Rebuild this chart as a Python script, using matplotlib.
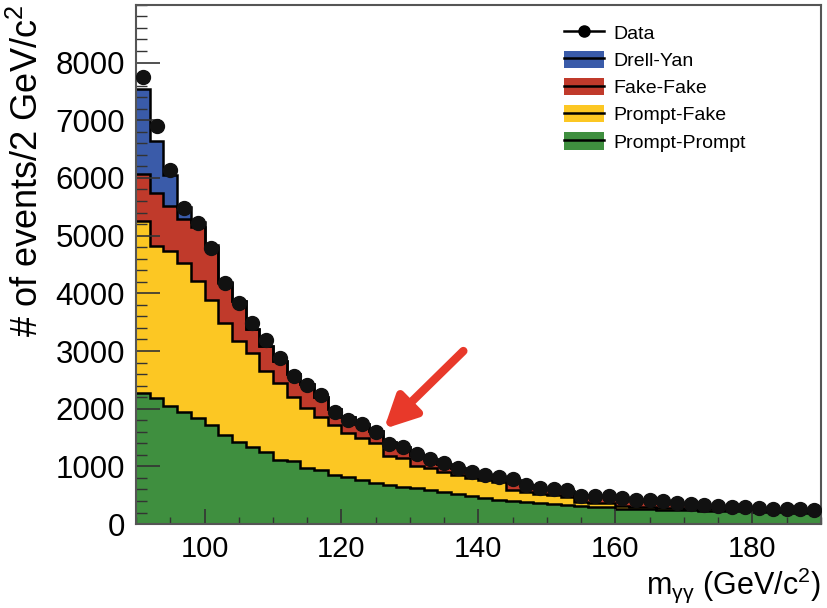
import matplotlib
matplotlib.use("Agg")
import matplotlib.pyplot as plt
from matplotlib.patches import Patch
from matplotlib.lines import Line2D
from matplotlib.ticker import MultipleLocator
import numpy as np

plt.rcParams['font.family'] = ['Liberation Sans', 'DejaVu Sans']
plt.rcParams['mathtext.default'] = 'regular'

# 2 GeV bins from 90 to 190
bin_edges = np.arange(90, 191, 2)
bin_centers = np.arange(91, 190, 2)

data = [7750, 6900, 6130, 5480, 5220, 4780, 4180, 3840, 3480, 3190,
        2880, 2570, 2410, 2240, 1950, 1810, 1730, 1600, 1390, 1340,
        1220, 1120, 1060, 970, 910, 850, 820, 790, 680, 620,
        610, 590, 490, 490, 490, 450, 420, 410, 405, 370,
        350, 335, 315, 300, 290, 275, 270, 258, 255, 240]

prompt_prompt = [2280, 2180, 2040, 1950, 1840, 1720, 1550, 1430, 1340, 1255,
                 1110, 1100, 970, 940, 850, 820, 765, 710, 680, 650,
                 620, 590, 560, 530, 490, 450, 420, 405, 390, 360,
                 345, 330, 310, 300, 290, 270, 260, 255, 250, 245,
                 240, 235, 230, 225, 220, 215, 210, 205, 200, 195]

prompt_fake = [2970, 2640, 2690, 2580, 2370, 2170, 1930, 1735, 1620, 1395,
               1330, 1110, 1040, 920, 870, 755, 725, 690, 500, 490,
               380, 375, 350, 320, 305, 315, 315, 185, 170, 170,
               160, 145, 80, 70, 70, 42, 40, 35, 35, 30,
               28, 27, 25, 25, 25, 25, 25, 25, 25, 25]

fake_fake = [810, 920, 780, 750, 940, 910, 700, 700, 420, 430,
             390, 390, 410, 350, 280, 275, 250, 220, 240, 190,
             200, 165, 140, 125, 105, 85, 75, 180, 120, 90,
             95, 95, 110, 120, 120, 133, 120, 115, 110, 95,
             82, 73, 60, 50, 45, 35, 33, 28, 25, 20]

drell_yan = [1490, 900, 540, 220, 80, 40, 20, 5, 0, 0,
             0, 0, 0, 0, 0, 0, 0, 0, 0, 0,
             0, 0, 0, 0, 0, 0, 0, 0, 0, 0,
             0, 0, 0, 0, 0, 0, 0, 0, 0, 0,
             0, 0, 0, 0, 0, 0, 0, 0, 0, 0]

higgs_mass = 126

components = [("Prompt-Prompt", prompt_prompt, '#3f8f3f'),
              ("Prompt-Fake", prompt_fake, '#fcc723'),
              ("Fake-Fake", fake_fake, '#c03a2b'),
              ("Drell-Yan", drell_yan, '#3a5ba9')]

fig = plt.figure(figsize=(8.27, 6.08), dpi=100)
ax = fig.add_axes([0.1645, 0.138, 0.828, 0.854])

bottom = np.zeros(len(bin_centers))
for name, vals, col in components:
    top = bottom + np.array(vals)
    ax.stairs(top, bin_edges, baseline=bottom, fill=True, color=col, lw=0)
    bottom = top

# black step outlines on top of each layer
bottom = np.zeros(len(bin_centers))
for name, vals, col in components:
    bottom = bottom + np.array(vals)
    ax.stairs(bottom, bin_edges, baseline=None, color='black', lw=1.8)

ax.plot(bin_centers, data, 'o', color='#111111', markersize=10, zorder=5)

ax.annotate('', xy=(higgs_mass + 0.2, 1650), xytext=(137.8, 3000),
            arrowprops=dict(arrowstyle='-|>', color='#e8392a', lw=6,
                            mutation_scale=48, shrinkA=0, shrinkB=0))

ax.set_xlim(90, 190)
ax.set_ylim(0, 9000)
ax.xaxis.set_major_locator(MultipleLocator(20))
ax.xaxis.set_minor_locator(MultipleLocator(5))
ax.set_yticks(np.arange(0, 8001, 1000))
ax.yaxis.set_minor_locator(MultipleLocator(200))
ax.tick_params(axis='both', which='both', direction='in', color='#333333')
ax.tick_params(axis='y', which='major', length=17, width=1.2, pad=8, labelsize=22.5)
ax.tick_params(axis='y', which='minor', length=8, width=1.0)
ax.tick_params(axis='x', which='major', length=11, width=1.2, pad=8, labelsize=21)
ax.tick_params(axis='x', which='minor', length=5, width=1.0)
for sp in ax.spines.values():
    sp.set_color('#555555')
    sp.set_linewidth(1.5)

ax.set_xlabel(r'm$_{\gamma\gamma}$ (GeV/c$^2$)', fontsize=22, loc='right', labelpad=2)
ax.set_ylabel(r'# of events/2 GeV/c$^2$', fontsize=26, loc='top')
ax.yaxis.set_label_coords(-0.132, 1.0)

handles = [Line2D([], [], color='black', marker='o', markersize=8, lw=1.8)]
labels = ['Data']
for name, vals, col in components[::-1]:
    handles.append((Patch(facecolor=col, edgecolor='none'),
                    Line2D([], [], color='black', lw=1.8)))
    labels.append(name)
ax.legend(handles, labels, loc='upper right', bbox_to_anchor=(0.91, 0.99),
          frameon=False, fontsize=14, handlelength=2.05, handleheight=1.0,
          labelspacing=0.4, handletextpad=0.45, borderpad=0.2)

fig.savefig('out.png', dpi=100)
